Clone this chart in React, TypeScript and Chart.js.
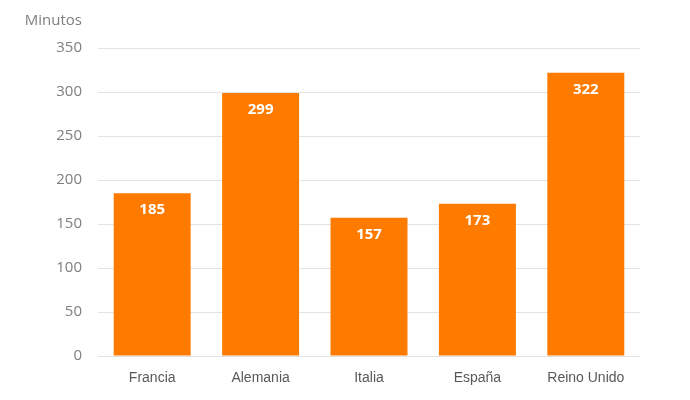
import React, { useEffect, useRef } from "react";
import { Chart, registerables } from "chart.js";

Chart.register(...registerables);

const categories = ["Francia", "Alemania", "Italia", "España", "Reino Unido"];
const values = [185, 299, 157, 173, 322];
const yTicks = [0, 50, 100, 150, 200, 250, 300, 350];
const yTitle = "Minutos";

const BAR = "#FF7B00";

const labelPlugin = {
  id: "labels",
  afterDatasetsDraw(chart: any) {
    const ctx = chart.ctx;
    const meta = chart.getDatasetMeta(0);
    ctx.save();
    ctx.fillStyle = "#ffffff";
    ctx.font = "bold 15px 'Open Sans', sans-serif";
    ctx.textAlign = "center";
    ctx.textBaseline = "middle";
    meta.data.forEach((bar: any, i: number) => {
      ctx.fillText(String(values[i]), bar.x, bar.y + 17);
    });
    ctx.fillStyle = "#7f7f7f";
    ctx.font = "15px 'Open Sans', sans-serif";
    ctx.textAlign = "right";
    ctx.fillText(yTitle, 82, 21);
    ctx.restore();
  },
};

export default function App() {
  const ref = useRef<HTMLCanvasElement>(null);
  useEffect(() => {
    document.body.style.margin = "0";
    const chart = new Chart(ref.current!, {
      type: "bar",
      data: {
        labels: categories,
        datasets: [
          {
            data: values,
            backgroundColor: BAR,
            categoryPercentage: 1,
            barPercentage: 0.71,
          },
        ],
      },
      options: {
        animation: false,
        responsive: false,
        layout: { padding: { top: 48, right: 50, bottom: 0, left: 0 } },
        plugins: { legend: { display: false }, tooltip: { enabled: false } },
        scales: {
          x: {
            grid: { display: false },
            border: { display: false },
            ticks: {
              color: "#595959",
              font: { family: "'Liberation Sans', Arial, sans-serif", size: 14 },
              padding: 6,
            },
            afterFit: (s: any) => {
              s.height = 44;
            },
          },
          y: {
            min: 0,
            max: 350,
            afterBuildTicks: (s: any) => {
              s.ticks = yTicks.map((v) => ({ value: v }));
            },
            grid: { color: "#e3e3e3", drawTicks: false },
            border: { display: false },
            ticks: {
              color: "#7f7f7f",
              font: { family: "'Open Sans', sans-serif", size: 15 },
              padding: 16,
            },
            afterFit: (s: any) => {
              s.width = 98;
            },
          },
        },
      },
      plugins: [labelPlugin],
    });
    return () => chart.destroy();
  }, []);
  return (
    <div style={{ width: 690, height: 400 }}>
      <canvas ref={ref} width={690} height={400} />
    </div>
  );
}
